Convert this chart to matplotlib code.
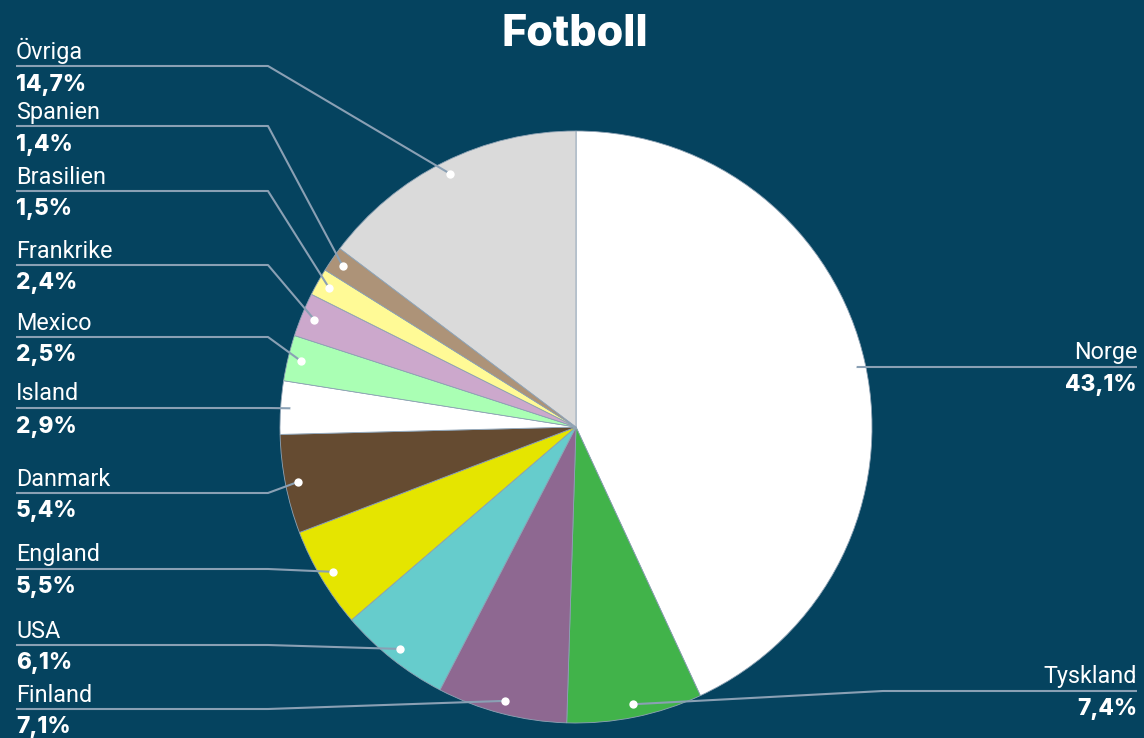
import numpy as np
import matplotlib
matplotlib.use("Agg")
import matplotlib.pyplot as plt

# ---- data ----
countries = ["Norge", "Tyskland", "Finland", "USA", "England", "Danmark",
             "Island", "Mexico", "Frankrike", "Brasilien", "Spanien", "Övriga"]
shares = [43.1, 7.4, 7.1, 6.1, 5.5, 5.4, 2.9, 2.5, 2.4, 1.5, 1.4, 14.7]
pct_labels = ["43,1%", "7,4%", "7,1%", "6,1%", "5,5%", "5,4%",
              "2,9%", "2,5%", "2,4%", "1,5%", "1,4%", "14,7%"]
colors = ["#FFFFFF", "#41B34A", "#8E6891", "#66CCCC", "#E5E500", "#654B31",
          "#FFFFFF", "#AAFFB4", "#CCA8CC", "#FFFA96", "#AD9378", "#DADADA"]
title = "Fotboll"

# ---- layout (pixel space) ----
W, H = 1144, 738
BG = "#05435F"
LINE = "#8AA0B4"
cx, cy, R = 576, 427, 296
# label side and line y (px from top)
label_side = ["right", "right", "left", "left", "left", "left",
              "left", "left", "left", "left", "left", "left"]
label_line_y = [367, 691, 709, 645, 569, 493, 408, 337, 265, 191, 126, 66]

fig = plt.figure(figsize=(W / 100, H / 100), dpi=100, facecolor=BG)
ax = fig.add_axes([0, 0, 1, 1])
ax.set_facecolor(BG)
ax.set_xlim(0, W)
ax.set_ylim(0, H)
ax.set_aspect("equal")
ax.axis("off")

def py(y):
    return H - y

ax.pie(shares, colors=colors, startangle=90, counterclock=False,
       center=(cx, py(cy)), radius=R,
       wedgeprops=dict(edgecolor="#8FA3B5", linewidth=0.6))
ax.set_xlim(0, W)
ax.set_ylim(0, H)

total = sum(shares)
cum = 0.0
for name, v, pl, side, ly in zip(countries, shares, pct_labels, label_side, label_line_y):
    mid = cum + v / 2
    cum += v
    ang = np.deg2rad(90 - 360 * mid / total)
    r = 0.956 * R
    dx = cx + r * np.cos(ang)
    dy = cy - r * np.sin(ang)
    if side == "left":
        xs = [16, 268, dx]
        tx, ha = 16, "left"
    else:
        bend = dx if name == "Norge" else 883
        xs = [1137, bend, dx]
        tx, ha = 1137, "right"
    ys = [ly, ly, dy]
    ax.plot(xs, [py(y) for y in ys], color=LINE, lw=1.5, solid_capstyle="butt", zorder=3)
    ax.scatter([dx], [py(dy)], s=36, color="white", zorder=4, linewidths=0)
    ax.text(tx, py(ly - 7.5), name, ha=ha, va="baseline", color="white",
            fontsize=16.8, family="Roboto")
    ax.text(tx, py(ly + 24.5), pl, ha=ha, va="baseline", color="white",
            fontsize=16.3, family="Inter", fontweight="heavy")

ax.text(575, py(34), title, ha="center", va="center", color="white",
        fontsize=31, family="Inter", fontweight="heavy")

fig.savefig("out.png", dpi=100, facecolor=BG)
